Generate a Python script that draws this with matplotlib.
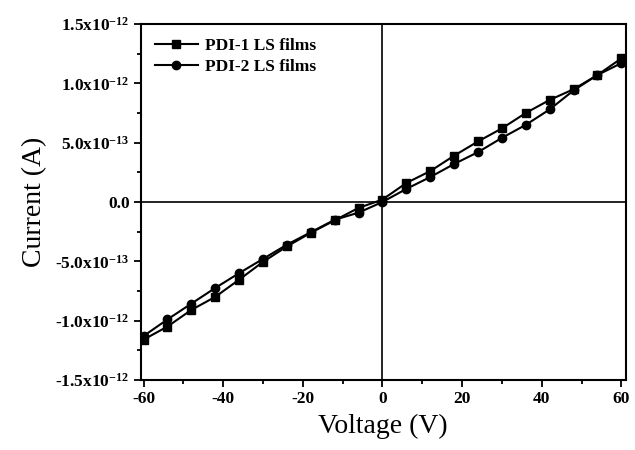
import matplotlib
matplotlib.use('Agg')
import matplotlib.pyplot as plt
from matplotlib.ticker import MultipleLocator, FuncFormatter


VOLTAGE = [-60, -54, -48, -42, -36, -30, -24, -18, -12, -6, 0,
           6, 12, 18, 24, 30, 36, 42, 48, 54, 60]

# current in units of 1e-12 A
PDI1 = [-1.16, -1.05, -0.91, -0.80, -0.655, -0.505, -0.375, -0.26, -0.155, -0.05, 0.02,
        0.16, 0.26, 0.39, 0.51, 0.62, 0.75, 0.86, 0.95, 1.07, 1.21]
PDI2 = [-1.13, -0.99, -0.857, -0.725, -0.60, -0.48, -0.36, -0.255, -0.15, -0.09, 0.0,
        0.11, 0.21, 0.32, 0.42, 0.54, 0.65, 0.78, 0.94, 1.07, 1.17]

Y_LABELS = {
    1.5: '1.5x10$^{-12}$',
    1.0: '1.0x10$^{-12}$',
    0.5: '5.0x10$^{-13}$',
    0.0: '0.0',
    -0.5: '-5.0x10$^{-13}$',
    -1.0: '-1.0x10$^{-12}$',
    -1.5: '-1.5x10$^{-12}$',
}


def fmt_y(value, pos):
    return Y_LABELS.get(round(value, 2), '')


def main():
    plt.rcParams['font.family'] = ['Liberation Serif', 'DejaVu Serif']
    plt.rcParams['mathtext.fontset'] = 'custom'
    plt.rcParams['mathtext.rm'] = 'Liberation Serif:bold'
    plt.rcParams['mathtext.it'] = 'Liberation Serif:bold'
    plt.rcParams['mathtext.bf'] = 'Liberation Serif:bold'
    plt.rcParams['axes.unicode_minus'] = False

    fig = plt.figure(figsize=(6.35, 4.5), dpi=100)
    ax = fig.add_axes([0.2216, 0.1556, 0.7638, 0.7911])

    ax.axhline(0, color='black', lw=1.2, zorder=1)
    ax.axvline(0, color='black', lw=1.2, zorder=1)

    ax.plot(VOLTAGE, PDI1, '-s', color='black', lw=1.5, markersize=6, label='PDI-1 LS films', zorder=3)
    ax.plot(VOLTAGE, PDI2, '-o', color='black', lw=1.5, markersize=6, label='PDI-2 LS films', zorder=3)

    ax.set_xlim(-60.7, 61.1)
    ax.set_ylim(-1.5, 1.5)

    ax.xaxis.set_major_locator(MultipleLocator(20))
    ax.xaxis.set_minor_locator(MultipleLocator(10))
    ax.yaxis.set_major_locator(MultipleLocator(0.5))
    ax.yaxis.set_minor_locator(MultipleLocator(0.25))
    ax.yaxis.set_major_formatter(FuncFormatter(fmt_y))

    ax.tick_params(which='both', direction='out', top=False, right=False, width=1.3)
    ax.tick_params(which='major', length=5, labelsize=12.5, pad=3)
    ax.tick_params(which='minor', length=3)
    for lab in ax.get_xticklabels() + ax.get_yticklabels():
        lab.set_fontweight('bold')

    for spine in ax.spines.values():
        spine.set_linewidth(1.5)

    ax.set_xlabel('Voltage (V)', fontsize=20, labelpad=5)
    ax.set_ylabel('Current (A)', fontsize=20, labelpad=6)

    ax.legend(loc='upper left', frameon=False, prop={'weight': 'bold', 'size': 12.5},
              handlelength=2.5, handletextpad=0.4, labelspacing=0.3,
              borderaxespad=0.4, bbox_to_anchor=(0.0, 1.0))

    fig.savefig('out.png', dpi=100)


if __name__ == '__main__':
    main()
